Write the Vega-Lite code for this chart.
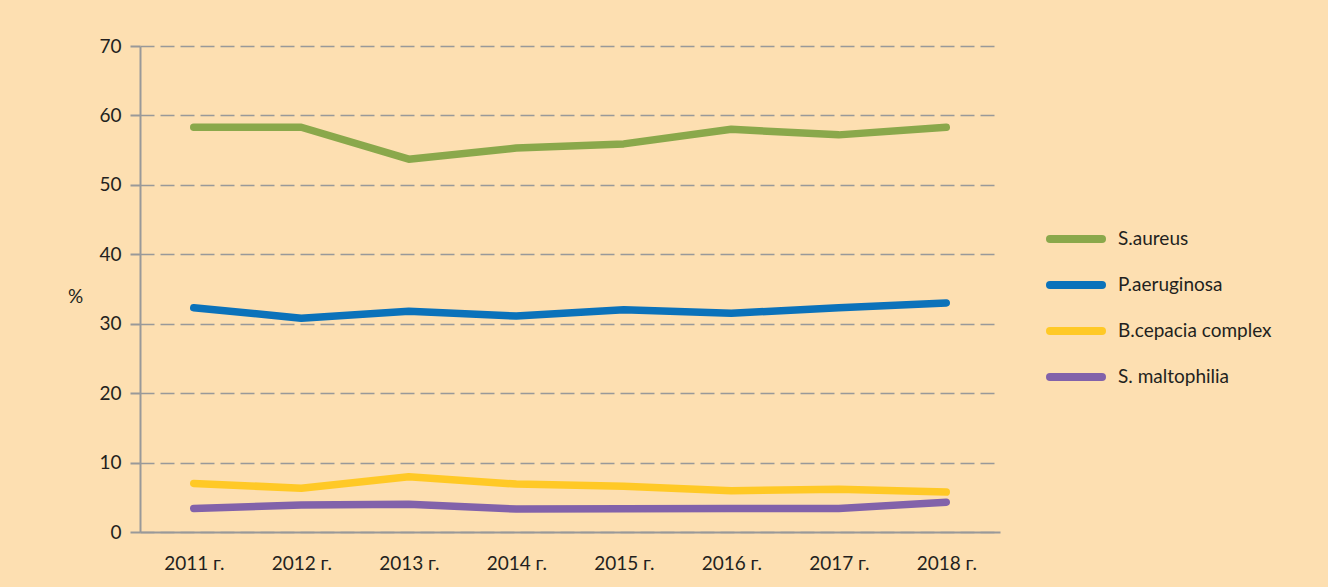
{
  "$schema": "https://vega.github.io/schema/vega-lite/v6.json",
  "width": 860,
  "height": 486,
  "autosize": "none",
  "padding": {"left": 140, "top": 46, "right": 328, "bottom": 55},
  "background": "#FDDFB1",
  "config": {
    "view": {"stroke": null},
    "font": "Lato",
    "axis": {"labelFont": "Lato", "titleFont": "Lato", "labelColor": "#231F20", "titleColor": "#231F20"}
  },
  "data": {
    "values": [
      {"year": "2011 г.", "org": "S.aureus", "v": 58.3},
      {"year": "2012 г.", "org": "S.aureus", "v": 58.3},
      {"year": "2013 г.", "org": "S.aureus", "v": 53.7},
      {"year": "2014 г.", "org": "S.aureus", "v": 55.3},
      {"year": "2015 г.", "org": "S.aureus", "v": 55.9},
      {"year": "2016 г.", "org": "S.aureus", "v": 58.0},
      {"year": "2017 г.", "org": "S.aureus", "v": 57.2},
      {"year": "2018 г.", "org": "S.aureus", "v": 58.3},
      {"year": "2011 г.", "org": "P.aeruginosa", "v": 32.3},
      {"year": "2012 г.", "org": "P.aeruginosa", "v": 30.8},
      {"year": "2013 г.", "org": "P.aeruginosa", "v": 31.8},
      {"year": "2014 г.", "org": "P.aeruginosa", "v": 31.1},
      {"year": "2015 г.", "org": "P.aeruginosa", "v": 32.0},
      {"year": "2016 г.", "org": "P.aeruginosa", "v": 31.5},
      {"year": "2017 г.", "org": "P.aeruginosa", "v": 32.3},
      {"year": "2018 г.", "org": "P.aeruginosa", "v": 33.0},
      {"year": "2011 г.", "org": "B.cepacia complex", "v": 7.0},
      {"year": "2012 г.", "org": "B.cepacia complex", "v": 6.3},
      {"year": "2013 г.", "org": "B.cepacia complex", "v": 7.95},
      {"year": "2014 г.", "org": "B.cepacia complex", "v": 6.9},
      {"year": "2015 г.", "org": "B.cepacia complex", "v": 6.6},
      {"year": "2016 г.", "org": "B.cepacia complex", "v": 5.95},
      {"year": "2017 г.", "org": "B.cepacia complex", "v": 6.15},
      {"year": "2018 г.", "org": "B.cepacia complex", "v": 5.75},
      {"year": "2011 г.", "org": "S. maltophilia", "v": 3.4},
      {"year": "2012 г.", "org": "S. maltophilia", "v": 3.9},
      {"year": "2013 г.", "org": "S. maltophilia", "v": 4.0},
      {"year": "2014 г.", "org": "S. maltophilia", "v": 3.3},
      {"year": "2015 г.", "org": "S. maltophilia", "v": 3.35},
      {"year": "2016 г.", "org": "S. maltophilia", "v": 3.4},
      {"year": "2017 г.", "org": "S. maltophilia", "v": 3.4},
      {"year": "2018 г.", "org": "S. maltophilia", "v": 4.3}
    ]
  },
  "mark": {"type": "line", "strokeWidth": 7.5, "strokeCap": "round", "strokeJoin": "round"},
  "encoding": {
    "x": {
      "field": "year", "type": "ordinal",
      "scale": {"type": "point", "padding": 0.5},
      "axis": {
        "title": null, "labelAngle": 0, "labelFontSize": 19, "labelPadding": 22,
        "ticks": false, "domainColor": "#999999", "domainWidth": 2, "grid": false
      }
    },
    "y": {
      "field": "v", "type": "quantitative",
      "scale": {"domain": [0, 70], "nice": false},
      "axis": {
        "values": [0, 10, 20, 30, 40, 50, 60, 70],
        "title": "%", "titleAngle": 0, "titleX": -65, "titleY": 250,
        "titleAlign": "center", "titleBaseline": "middle", "titleFontSize": 19, "titleFontWeight": "normal",
        "labelFontSize": 19, "labelPadding": 9, "tickSize": 10, "tickColor": "#999999", "tickWidth": 2,
        "domainColor": "#999999", "domainWidth": 2,
        "grid": true, "gridColor": "#999999", "gridWidth": 1.5, "gridDash": [14, 6]
      }
    },
    "color": {
      "field": "org", "type": "nominal",
      "scale": {
        "domain": ["S.aureus", "P.aeruginosa", "B.cepacia complex", "S. maltophilia"],
        "range": ["#8AA84B", "#0B72BA", "#FFC926", "#8262AA"]
      },
      "legend": {
        "title": null, "orient": "none", "legendX": 906, "legendY": 163,
        "symbolType": "stroke", "symbolSize": 2704, "symbolStrokeWidth": 8,
        "labelFontSize": 19, "labelColor": "#231F20", "labelOffset": 12, "rowPadding": 0,
        "encode": {"symbols": {"update": {"strokeCap": {"value": "round"}}}}
      }
    }
  }
}
